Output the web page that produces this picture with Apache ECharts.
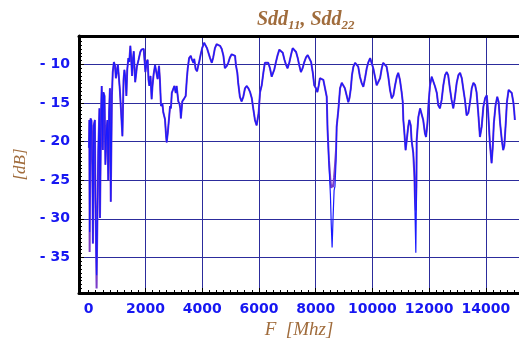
<!DOCTYPE html>
<html>
<head>
<meta charset="utf-8">
<script src="https://cdn.jsdelivr.net/npm/echarts@6/dist/echarts.min.js"></script>
<style>
  html, body { margin: 0; padding: 0; background: #ffffff; }
  #chart { width: 519px; height: 340px; }
</style>
</head>
<body>
<div id="chart"></div>
<script>
// Frequency grid of the sweep (MHz)
const freqMHz = [
  10, 25, 35, 65, 100, 130, 150, 180, 220, 240,
  280, 310, 340, 380, 400, 440, 460, 500, 520, 560,
  590, 630, 660, 690, 720, 750, 780, 820, 850, 890,
  930, 960, 1000, 1030, 1070, 1100, 1140, 1190, 1230, 1260,
  1300, 1330, 1360, 1400, 1430, 1470, 1500, 1530, 1560, 1590,
  1620, 1640, 1680, 1700, 1760, 1820, 1860, 1900, 1940, 1960,
  2000, 2040, 2080, 2110, 2140, 2180, 2220, 2250, 2290, 2340,
  2400, 2430, 2480, 2510, 2550, 2600, 2630, 2690, 2730, 2750,
  2790, 2830, 2870, 2900, 2930, 2980, 3020, 3070, 3100, 3160,
  3200, 3230, 3250, 3300, 3370, 3420, 3460, 3490, 3540, 3600,
  3630, 3690, 3720, 3770, 3820, 3860, 3900, 3950, 4000, 4070,
  4130, 4170, 4220, 4280, 4340, 4390, 4450, 4510, 4570, 4630,
  4690, 4750, 4800, 4870, 4920, 4980, 5040, 5100, 5160, 5190,
  5240, 5270, 5330, 5390, 5450, 5510, 5570, 5630, 5690, 5750,
  5800, 5860, 5920, 5960, 5990, 6040, 6100, 6160, 6210, 6270,
  6330, 6390, 6450, 6510, 6540, 6600, 6660, 6720, 6780, 6840,
  6900, 6960, 7010, 7070, 7130, 7190, 7250, 7310, 7370, 7420,
  7480, 7540, 7600, 7660, 7720, 7780, 7840, 7900, 7950, 8010,
  8060, 8110, 8150, 8210, 8270, 8330, 8390, 8420, 8470, 8520,
  8550, 8580, 8610, 8650, 8680, 8720, 8740, 8800, 8860, 8920,
  8970, 9030, 9090, 9150, 9190, 9240, 9280, 9330, 9390, 9450,
  9500, 9560, 9620, 9680, 9740, 9800, 9860, 9920, 9980, 10030,
  10090, 10150, 10210, 10270, 10330, 10380, 10440, 10500, 10560, 10620,
  10680, 10740, 10800, 10860, 10910, 10970, 11030, 11070, 11090, 11120,
  11170, 11210, 11260, 11300, 11350, 11380, 11440, 11480, 11500, 11530,
  11550, 11560, 11620, 11680, 11740, 11790, 11850, 11890, 11940, 11980,
  12030, 12090, 12150, 12210, 12270, 12320, 12380, 12440, 12500, 12560,
  12620, 12670, 12730, 12790, 12850, 12910, 12970, 13030, 13090, 13150,
  13200, 13260, 13320, 13380, 13440, 13500, 13560, 13620, 13670, 13730,
  13790, 13850, 13910, 13970, 14030, 14080, 14140, 14200, 14240, 14280,
  14340, 14400, 14450, 14500, 14560, 14610, 14650, 14700, 14740, 14800,
  14850, 14910, 14970, 15000, 15020
];

// Differential return loss, port 1 (dB)
const sdd11 = [
  -20.8, -17.2, -31.7, -17.0, -17.3, -23.0, -33.2, -17.9, -17.2, -27.6,
  -37.3, -29.5, -21.1, -15.7, -29.9, -15.9, -12.8, -21.1, -13.6, -14.1,
  -23.0, -18.5, -17.2, -25.0, -16.2, -13.1, -27.8, -14.0, -11.0, -9.7,
  -10.2, -11.8, -12.0, -10.0, -10.2, -13.3, -15.9, -19.3, -12.0, -10.7,
  -12.0, -14.1, -10.7, -9.2, -9.7, -7.6, -9.4, -11.5, -9.4, -8.3,
  -10.7, -12.3, -11.0, -10.3, -9.4, -8.4, -8.1, -7.9, -8.0, -7.8,
  -11.0, -9.7, -9.4, -12.0, -12.8, -11.5, -14.5, -12.8, -11.3, -10.1,
  -10.0, -11.9, -10.2, -11.9, -15.4, -15.1, -16.2, -17.1, -19.3, -20.1,
  -18.8, -17.1, -15.4, -15.7, -13.7, -13.5, -12.8, -13.7, -12.8, -14.8,
  -15.1, -15.7, -17.0, -14.8, -14.4, -14.1, -11.9, -10.6, -9.2, -8.9,
  -9.3, -9.8, -9.3, -10.6, -10.9, -10.2, -9.6, -8.7, -7.9, -7.2,
  -7.4, -7.9, -8.0, -9.2, -9.8, -9.1, -7.9, -7.4, -7.2, -7.6,
  -8.0, -8.9, -10.5, -10.2, -9.8, -9.1, -8.7, -8.8, -8.9, -10.1,
  -11.1, -12.4, -14.2, -14.8, -14.2, -13.1, -12.8, -13.1, -13.6, -14.4,
  -15.7, -17.2, -17.9, -18.1, -16.3, -13.6, -12.7, -11.0, -9.8, -9.7,
  -9.8, -10.5, -11.6, -11.6, -10.7, -9.7, -8.8, -8.1, -7.9, -8.5,
  -9.4, -10.1, -10.5, -9.8, -8.8, -7.9, -7.9, -8.4, -9.2, -10.1,
  -11.0, -10.5, -9.7, -9.1, -8.8, -8.8, -9.7, -11.1, -12.7, -13.1,
  -13.6, -12.7, -11.8, -11.6, -12.0, -13.1, -14.2, -18.5, -23.0, -26.9,
  -30.8, -33.7, -30.2, -26.3, -25.8, -22.4, -18.1, -15.9, -13.1, -12.4,
  -12.7, -13.1, -14.0, -14.9, -14.4, -13.1, -11.4, -10.3, -9.8, -9.7,
  -10.3, -11.6, -12.4, -12.9, -11.8, -10.5, -9.7, -9.2, -9.4, -10.5,
  -11.6, -12.7, -12.9, -11.8, -10.5, -9.8, -9.8, -10.3, -11.6, -13.3,
  -14.4, -14.0, -12.7, -11.6, -11.1, -12.0, -13.6, -14.9, -17.2, -18.5,
  -21.1, -19.8, -18.1, -17.2, -17.9, -19.8, -21.5, -23.7, -28.9, -34.4,
  -27.6, -19.8, -16.8, -15.7, -15.9, -17.2, -18.9, -19.4, -17.6, -15.0,
  -12.7, -11.6, -11.6, -12.9, -13.7, -15.3, -15.7, -14.6, -12.7, -11.4,
  -11.0, -11.4, -13.1, -14.6, -15.7, -14.2, -12.4, -11.4, -11.1, -11.8,
  -13.1, -14.6, -16.6, -16.3, -14.9, -13.1, -12.4, -12.7, -13.6, -16.3,
  -19.4, -18.1, -15.5, -14.4, -14.0, -16.3, -20.2, -22.8, -20.8, -17.6,
  -15.3, -14.2, -14.9, -17.6, -19.8, -21.1, -20.5, -17.6, -14.9, -13.3,
  -13.1, -13.7, -15.0, -16.2, -17.2
];

// Differential return loss, port 2 (dB)
const sdd22 = [
  -20.8, -17.2, -34.3, -17.0, -17.3, -23.0, -33.2, -17.9, -17.2, -27.6,
  -39.0, -29.5, -21.1, -15.7, -29.9, -15.9, -12.8, -21.1, -13.6, -14.1,
  -23.0, -18.5, -17.2, -25.0, -16.2, -13.1, -27.8, -14.0, -11.0, -9.7,
  -10.2, -11.8, -12.0, -10.0, -10.2, -13.3, -15.9, -19.3, -12.0, -10.7,
  -12.0, -14.1, -10.7, -9.2, -9.7, -7.6, -9.4, -11.5, -9.4, -8.3,
  -10.7, -12.3, -11.0, -10.3, -9.4, -8.4, -8.1, -7.9, -8.0, -7.8,
  -11.0, -9.7, -9.4, -12.0, -12.8, -11.5, -14.5, -12.8, -11.3, -10.1,
  -10.0, -11.9, -10.2, -11.9, -15.4, -15.1, -16.2, -17.1, -19.3, -20.1,
  -18.8, -17.1, -15.4, -15.7, -13.7, -13.5, -12.8, -13.7, -12.8, -14.8,
  -15.1, -15.7, -17.0, -14.8, -14.4, -14.1, -11.9, -10.6, -9.2, -8.9,
  -9.3, -9.8, -9.3, -10.6, -10.9, -10.2, -9.6, -8.7, -7.9, -7.2,
  -7.4, -7.9, -8.0, -9.2, -9.8, -9.1, -7.9, -7.4, -7.2, -7.6,
  -8.0, -8.9, -10.5, -10.2, -9.8, -9.1, -8.7, -8.8, -8.9, -10.1,
  -11.1, -12.4, -14.2, -14.8, -14.2, -13.1, -12.8, -13.1, -13.6, -14.4,
  -15.7, -17.2, -17.9, -18.1, -16.3, -13.6, -12.7, -11.0, -9.8, -9.7,
  -9.8, -10.5, -11.6, -11.6, -10.7, -9.7, -8.8, -8.1, -7.9, -8.5,
  -9.4, -10.1, -10.5, -9.8, -8.8, -7.9, -7.9, -8.4, -9.2, -10.1,
  -11.0, -10.5, -9.7, -9.1, -8.8, -8.8, -9.7, -11.1, -12.7, -13.1,
  -13.6, -12.7, -11.8, -11.6, -12.0, -13.1, -14.2, -18.5, -22.5, -25.0,
  -26.0, -25.6, -25.9, -24.6, -23.2, -21.0, -18.1, -15.9, -13.1, -12.4,
  -12.7, -13.1, -14.0, -14.9, -14.4, -13.1, -11.4, -10.3, -9.8, -9.7,
  -10.3, -11.6, -12.4, -12.9, -11.8, -10.5, -9.7, -9.2, -9.4, -10.5,
  -11.6, -12.7, -12.9, -11.8, -10.5, -9.8, -9.8, -10.3, -11.6, -13.3,
  -14.4, -14.0, -12.7, -11.6, -11.1, -12.0, -13.6, -14.9, -17.2, -18.5,
  -21.1, -19.8, -18.1, -17.2, -17.9, -19.8, -21.5, -24.6, -27.4, -28.9,
  -25.8, -19.8, -16.8, -15.7, -15.9, -17.2, -18.9, -19.4, -17.6, -15.0,
  -12.7, -11.6, -11.6, -12.9, -13.7, -15.3, -15.7, -14.6, -12.7, -11.4,
  -11.0, -11.4, -13.1, -14.6, -15.7, -14.2, -12.4, -11.4, -11.1, -11.8,
  -13.1, -14.6, -16.6, -16.3, -14.9, -13.1, -12.4, -12.7, -13.6, -16.3,
  -19.4, -18.1, -15.5, -14.4, -14.0, -16.3, -20.2, -22.8, -20.8, -17.6,
  -15.3, -14.2, -14.9, -17.6, -19.8, -21.1, -20.5, -17.6, -14.9, -13.3,
  -13.1, -13.7, -15.0, -16.2, -17.2
];

// Axis ticks
const freqLabels = [0, 2000, 4000, 6000, 8000, 10000, 12000, 14000];
const freqGrid = [2000, 4000, 6000, 8000, 10000, 12000, 14000];
const dbLabels = [-35, -30, -25, -20, -15, -10];

const X_MIN = -340, X_MAX = 15166;
const Y_MIN = -39.6, Y_MAX = -6.33;

// minor tick positions along the frame
const freqMinor = [];
for (let f = 0; f <= 15000; f += 250) freqMinor.push(f);
const dbMinor = [];
for (let d = -39.5; d <= -6.5; d += 0.5) dbMinor.push(d);

const pairs = (ys) => freqMHz.map((f, i) => [f, ys[i]]);

const TICK_BLUE = '#1717f2';
const BROWN = '#a06c3c';
const GRID = '#2c2c9c';

const chart = echarts.init(document.getElementById('chart'), null, { renderer: 'canvas' });

chart.setOption({
  animation: false,
  backgroundColor: '#ffffff',
  title: {
    text: '{m|Sdd}{s|11}{m|, Sdd}{s|22}',
    left: 252,
    top: 5,
    textStyle: {
      rich: {
        m: { fontFamily: 'Liberation Serif', fontStyle: 'italic', fontWeight: 'bold', fontSize: 20, lineHeight: 20, color: BROWN, verticalAlign: 'top' },
        s: { fontFamily: 'Liberation Serif', fontStyle: 'italic', fontWeight: 'bold', fontSize: 13, lineHeight: 13, color: BROWN, verticalAlign: 'top', padding: [9, 0, 0, 0] }
      }
    }
  },
  grid: { left: 79, right: 0, top: 36, bottom: 47, containLabel: false, outerBoundsMode: 'none' },
  xAxis: [
    {
      type: 'value', min: X_MIN, max: X_MAX, position: 'bottom',
      name: 'F  [Mhz]', nameLocation: 'middle', nameGap: 27,
      nameTextStyle: { fontFamily: 'Liberation Serif', fontStyle: 'italic', fontSize: 19, color: BROWN },
      axisLine: { show: true, onZero: false, lineStyle: { color: '#000', width: 3 } },
      axisTick: { show: true, inside: true, length: 5, customValues: freqGrid, lineStyle: { color: '#000', width: 1 } },
      axisLabel: {
        customValues: freqLabels, margin: 9, color: TICK_BLUE,
        fontFamily: 'DejaVu Sans', fontWeight: 'bold', fontSize: 14,
        formatter: (v) => String(v)
      },
      splitLine: { show: true, customValues: freqGrid, lineStyle: { color: GRID, width: 1 } }
    },
    {
      type: 'value', min: X_MIN, max: X_MAX, position: 'bottom',
      axisLine: { show: false, onZero: false },
      axisTick: { show: true, inside: true, length: 3, customValues: freqMinor, lineStyle: { color: '#000', width: 1 } },
      axisLabel: { show: false },
      splitLine: { show: false }
    },
    {
      type: 'value', min: X_MIN, max: X_MAX, position: 'top',
      axisLine: { show: true, onZero: false, lineStyle: { color: '#000', width: 3 } },
      axisTick: { show: false },
      axisLabel: { show: false },
      splitLine: { show: false }
    }
  ],
  yAxis: [
    {
      type: 'value', min: Y_MIN, max: Y_MAX, position: 'left',
      name: '[dB]', nameLocation: 'middle', nameGap: 50, nameRotate: 90,
      nameTextStyle: { fontFamily: 'Liberation Serif', fontStyle: 'italic', fontSize: 17, color: BROWN },
      axisLine: { show: true, onZero: false, lineStyle: { color: '#000', width: 3 } },
      axisTick: { show: true, inside: true, length: 5, customValues: dbLabels, lineStyle: { color: '#000', width: 1 } },
      axisLabel: {
        customValues: dbLabels, margin: 9, color: TICK_BLUE,
        fontFamily: 'DejaVu Sans', fontWeight: 'bold', fontSize: 14,
        formatter: (v) => '- ' + Math.abs(v)
      },
      splitLine: { show: true, customValues: dbLabels, lineStyle: { color: GRID, width: 1 } }
    },
    {
      type: 'value', min: Y_MIN, max: Y_MAX, position: 'left',
      axisLine: { show: false, onZero: false },
      axisTick: { show: true, inside: true, length: 3, customValues: dbMinor, lineStyle: { color: '#000', width: 1 } },
      axisLabel: { show: false },
      splitLine: { show: false }
    }
  ],
  series: [
    {
      name: 'Sdd22', type: 'line', xAxisIndex: 0, yAxisIndex: 0,
      data: pairs(sdd22), showSymbol: false, clip: true, z: 3,
      lineStyle: { color: '#7a3cc8', width: 2 }
    },
    {
      name: 'Sdd11', type: 'line', xAxisIndex: 0, yAxisIndex: 0,
      data: pairs(sdd11), showSymbol: false, clip: true, z: 4,
      lineStyle: { color: '#1a1aff', width: 1.2 }
    }
  ]
});
</script>
</body>
</html>
